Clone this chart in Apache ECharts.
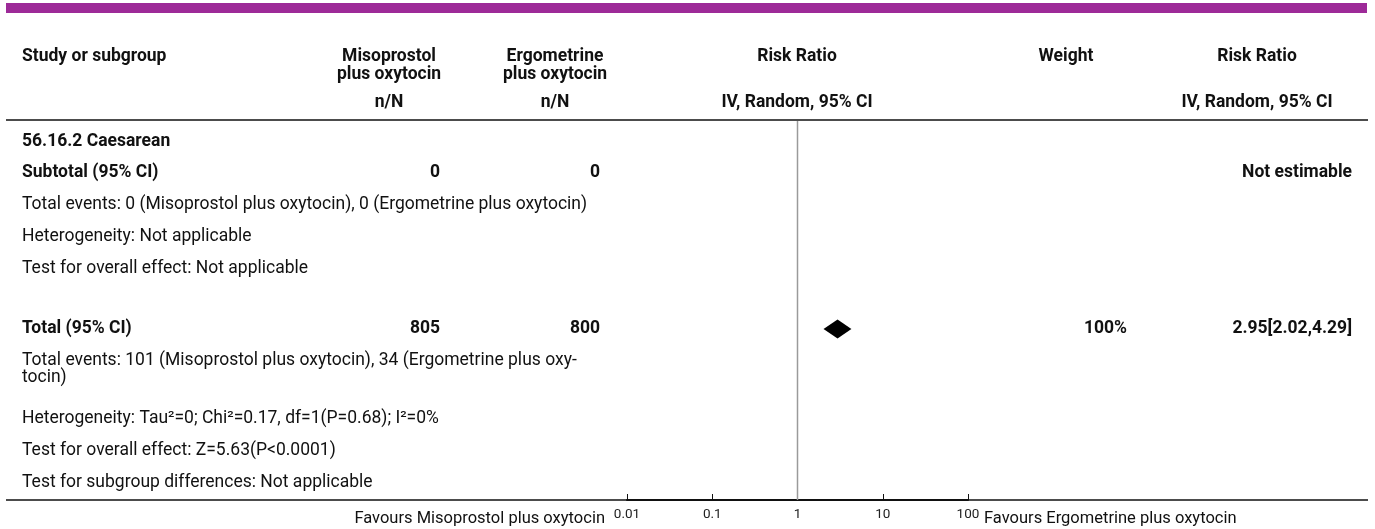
<!DOCTYPE html>
<html><head><meta charset="utf-8">
<script src="https://cdn.jsdelivr.net/npm/echarts@6/dist/echarts.min.js"></script>
<style>html,body{margin:0;padding:0;background:#fff}#c{width:1375px;height:529px}</style>
</head><body><div id="c"></div>
<script>
// ---------------- DATA ----------------
const headerCols = ['Study or subgroup', 'Misoprostol\nplus oxytocin', 'Ergometrine\nplus oxytocin', 'Risk Ratio', 'Weight', 'Risk Ratio'];
const subHeaderCols = ['n/N', 'n/N', 'IV, Random, 95% CI', 'IV, Random, 95% CI'];
const subgroupName = '56.16.2 Caesarean';
const subtotalLabel = 'Subtotal (95% CI)';
const subtotalN = [0, 0];
const subtotalResult = 'Not estimable';
const subtotalNotes = [
  'Total events: 0 (Misoprostol plus oxytocin), 0 (Ergometrine plus oxytocin)',
  'Heterogeneity: Not applicable',
  'Test for overall effect: Not applicable'
];
const totalLabel = 'Total (95% CI)';
const totalN = [805, 800];
const totalRR = [2.95, 2.02, 4.29];   // estimate, lower, upper
const totalWeight = '100%';
const totalNotes = [
  'Total events: 101 (Misoprostol plus oxytocin), 34 (Ergometrine plus oxy-\ntocin)',
  'Heterogeneity: Tau\u00b2=0; Chi\u00b2=0.17, df=1(P=0.68); I\u00b2=0%',
  'Test for overall effect: Z=5.63(P<0.0001)',
  'Test for subgroup differences: Not applicable'
];
const tickValues = [0.01, 0.1, 1, 10, 100];
const favoursLeft = 'Favours Misoprostol plus oxytocin';
const favoursRight = 'Favours Ergometrine plus oxytocin';

// ---------------- LAYOUT ----------------
const FONT = 'Roboto';
const FS = 17.5;
const plotL = 627, plotR = 968, plotTop = 121, plotBot = 500;
const colX = {study: 22, nA: 440, nB: 600, cA: 389, cB: 555, rr: 797, wt: 1066, wtR: 1127, rr2: 1257, rr2R: 1352};
const rowY = {h1: 57, h2: 75, h3: 103, sub: 142, subtot: 173, subNotes: [205, 237, 269], tot: 329, totNotes: [361, 419, 451, 483], fav: 519};

function txt(text, x, y, opt) {
  opt = opt || {};
  const align = opt.align || 'left';
  return {
    type: 'text', silent: true,
    style: {
      text: text, x: x, y: y,
      font: (opt.bold ? 'bold ' : '') + (opt.size || FS) + 'px ' + FONT,
      fill: opt.color || '#111',
      align: align, textAlign: align,
      verticalAlign: 'middle', textVerticalAlign: 'middle',
      lineHeight: opt.lh || 17
    }
  };
}
function hline(x1, x2, y, w, c) {
  return {type: 'line', silent: true, shape: {x1: x1, y1: y, x2: x2, y2: y}, style: {stroke: c || '#111', lineWidth: w || 1.5}};
}

const g = [];
g.push({type: 'rect', silent: true, shape: {x: 6, y: 3, width: 1361, height: 10}, style: {fill: '#9d2a98'}});
// header
g.push(txt(headerCols[0], colX.study, rowY.h1, {bold: true}));
g.push(txt(headerCols[1], colX.cA, (rowY.h1 + rowY.h2) / 2, {bold: true, align: 'center', lh: 18}));
g.push(txt(headerCols[2], colX.cB, (rowY.h1 + rowY.h2) / 2, {bold: true, align: 'center', lh: 18}));
g.push(txt(headerCols[3], colX.rr, rowY.h1, {bold: true, align: 'center'}));
g.push(txt(headerCols[4], colX.wt, rowY.h1, {bold: true, align: 'center'}));
g.push(txt(headerCols[5], colX.rr2, rowY.h1, {bold: true, align: 'center'}));
g.push(txt(subHeaderCols[0], colX.cA, rowY.h3, {bold: true, align: 'center'}));
g.push(txt(subHeaderCols[1], colX.cB, rowY.h3, {bold: true, align: 'center'}));
g.push(txt(subHeaderCols[2], colX.rr, rowY.h3, {bold: true, align: 'center'}));
g.push(txt(subHeaderCols[3], colX.rr2, rowY.h3, {bold: true, align: 'center'}));
g.push(hline(6, 1368, 120, 1.5));
// subgroup
g.push(txt(subgroupName, colX.study, rowY.sub, {bold: true}));
g.push(txt(subtotalLabel, colX.study, rowY.subtot, {bold: true}));
g.push(txt(String(subtotalN[0]), colX.nA, rowY.subtot, {bold: true, align: 'right'}));
g.push(txt(String(subtotalN[1]), colX.nB, rowY.subtot, {bold: true, align: 'right'}));
g.push(txt(subtotalResult, colX.rr2R, rowY.subtot, {bold: true, align: 'right'}));
subtotalNotes.forEach((t, i) => g.push(txt(t, colX.study, rowY.subNotes[i])));
// total
g.push(txt(totalLabel, colX.study, rowY.tot, {bold: true}));
g.push(txt(String(totalN[0]), colX.nA, rowY.tot, {bold: true, align: 'right'}));
g.push(txt(String(totalN[1]), colX.nB, rowY.tot, {bold: true, align: 'right'}));
g.push(txt(totalWeight, colX.wtR, rowY.tot, {bold: true, align: 'right'}));
g.push(txt(totalRR[0].toFixed(2) + '[' + totalRR[1].toFixed(2) + ',' + totalRR[2].toFixed(2) + ']', colX.rr2R, rowY.tot, {bold: true, align: 'right'}));
totalNotes.forEach((t, i) => {
  const lines = t.split('\n').length;
  g.push(txt(t, colX.study, rowY.totNotes[i] + (lines - 1) * 8.5));
});
// bottom
g.push(hline(6, 1368, 500, 1.5));
g.push(txt(favoursLeft, 605, rowY.fav, {align: 'right', size: 16.5}));
g.push(txt(favoursRight, 984, rowY.fav, {size: 16.5}));

const chart = echarts.init(document.getElementById('c'), null, {renderer: 'canvas'});
chart.setOption({
  animation: false,
  backgroundColor: '#fff',
  grid: {left: plotL, right: 1375 - plotR, top: plotTop, bottom: 529 - plotBot, containLabel: false},
  xAxis: {
    type: 'log', logBase: 10, min: tickValues[0], max: tickValues[tickValues.length - 1],
    axisLine: {show: true, lineStyle: {color: '#111', width: 2}},
    axisTick: {show: true, inside: true, length: 6, lineStyle: {color: '#111', width: 1}},
    axisLabel: {show: true, margin: 8, fontFamily: FONT, fontSize: 13.5, color: '#222', showMinLabel: true, showMaxLabel: true,
      formatter: v => { const e = Math.round(Math.log10(v)); return String(tickValues.find(t => Math.round(Math.log10(t)) === e)); }},
    splitLine: {show: false}
  },
  yAxis: {type: 'value', min: plotTop, max: plotBot, inverse: true, show: false},
  graphic: g,
  series: [
    {
      type: 'line', silent: true, symbol: 'none',
      data: [[1, plotTop], [1, plotBot]],
      lineStyle: {color: '#9a9a9a', width: 1.5}, z: 1
    },
    {
      type: 'custom', silent: true,
      data: [[totalRR[0], totalRR[1], totalRR[2], rowY.tot]],
      renderItem: function (params, api) {
        const y = api.value(3);
        const c = api.coord([api.value(0), y]);
        const lo = api.coord([api.value(1), y]);
        const hi = api.coord([api.value(2), y]);
        const h = 9.5;
        return {type: 'polygon', shape: {points: [[lo[0], c[1]], [c[0], c[1] - h], [hi[0], c[1]], [c[0], c[1] + h]]}, style: {fill: '#000'}};
      },
      encode: {x: 0, y: 3}, z: 5
    }
  ]
});
</script>
</body></html>
